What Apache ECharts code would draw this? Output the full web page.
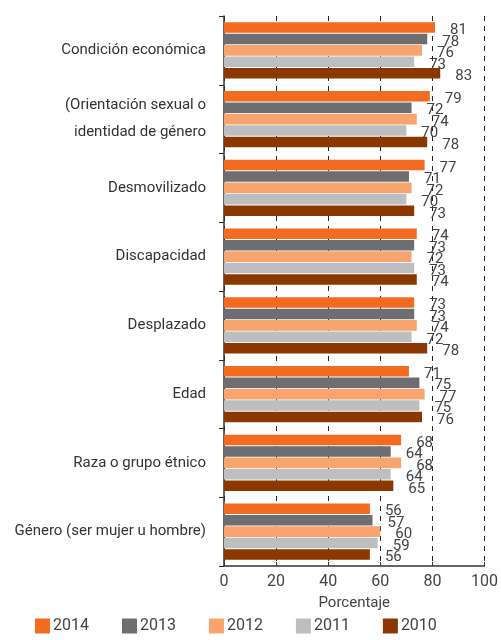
<!DOCTYPE html>
<html><head><meta charset="utf-8">
<script src="https://cdn.jsdelivr.net/npm/echarts@6/dist/echarts.min.js"></script>
<style>html,body{margin:0;padding:0;background:#fff}#c{width:501px;height:640px}</style>
</head><body><div id="c"></div>
<script>
const categories = ["Condición económica", "(Orientación sexual o\nidentidad de género", "Desmovilizado", "Discapacidad", "Desplazado", "Edad", "Raza o grupo étnico", "Género (ser mujer u hombre)"];
const years = ["2014", "2013", "2012", "2011", "2010"];
const v2014 = [81, 79, 77, 74, 73, 71, 68, 56];
const v2013 = [78, 72, 71, 73, 73, 75, 64, 57];
const v2012 = [76, 74, 72, 72, 74, 77, 68, 60];
const v2011 = [73, 70, 70, 73, 72, 75, 64, 59];
const v2010 = [83, 78, 73, 74, 78, 76, 65, 56];
const xTicks = [0, 20, 40, 60, 80, 100];
const colors = ["#F26B21", "#6D6E71", "#F7A46F", "#BCBEC0", "#8B3800"];
const values = [v2014, v2013, v2012, v2011, v2010];
const FONT = '"Liberation Sans Narrow", "Roboto", "Liberation Sans", sans-serif';

const chart = echarts.init(document.getElementById('c'));
chart.setOption({
  animation: false,
  textStyle: { fontFamily: FONT },
  grid: { left: 224, right: 12, top: 16, bottom: 74 },
  legend: {
    bottom: 1, left: 30,
    itemWidth: 15, itemHeight: 15, itemGap: 33,
    icon: 'rect',
    textStyle: { fontSize: 16, color: '#444', fontFamily: FONT, padding: [0, 0, 0, -2] },
    data: years
  },
  xAxis: {
    type: 'value', min: xTicks[0], max: xTicks[xTicks.length - 1], interval: 20,
    name: 'Porcentaje', nameLocation: 'middle', nameGap: 30,
    nameTextStyle: { fontSize: 15, color: '#444', fontFamily: FONT },
    axisLine: { show: true, lineStyle: { color: '#333', width: 1.5 } },
    axisTick: { show: true, inside: true, length: 4, lineStyle: { color: '#333' } },
    axisLabel: { fontSize: 16, color: '#444', margin: 8, fontFamily: FONT },
    splitLine: { show: true, lineStyle: { color: '#222', type: [5, 5], width: 1 } }
  },
  yAxis: {
    type: 'category', data: categories, inverse: true,
    axisLine: { show: true, lineStyle: { color: '#333', width: 1.5 } },
    axisTick: { show: true, length: 5, lineStyle: { color: '#333' } },
    axisLabel: { fontSize: 15, color: '#333', margin: 18, align: 'right', lineHeight: 27, fontFamily: FONT }
  },
  series: years.map((y, i) => ({
    name: y, type: 'bar', data: values[i],
    barGap: '8%', barCategoryGap: '18%',
    itemStyle: { color: colors[i] },
    label: {
      show: true, position: 'right', distance: 15, offset: [0, 3],
      fontSize: 15, color: '#444', fontFamily: FONT
    }
  }))
});
</script></body></html>
